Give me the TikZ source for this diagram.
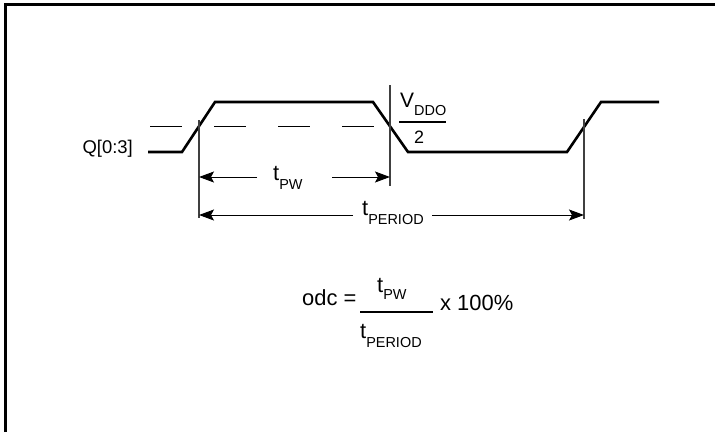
\documentclass[tikz,border=0pt]{standalone}
\usepackage{fontspec}
\setmainfont{Liberation Sans}
\usetikzlibrary{arrows.meta}
\newcommand\tsb[3][9bp]{#2\raisebox{-#1}{\fontsize{14.5}{14.5}\selectfont #3}}
\begin{document}
\begin{tikzpicture}[x=1bp,y=-1bp,
  sig/.style={line width=2.6bp, line join=miter},
  refline/.style={line width=1bp, dash pattern=on 32bp off 32bp},
  ext/.style={line width=1.2bp, draw=black!75},
  dim/.style={line width=1bp, -{Stealth[length=15bp,width=11bp,inset=3bp]}},
  lbl/.style={inner sep=0pt, font=\fontsize{22}{22}\selectfont},
  bar/.style={line width=1.2bp},
]
\useasboundingbox (0,0) rectangle (715,432);
\draw[line width=3bp] (5.5,432) -- (5.5,4.5) -- (715,4.5);

% signal
\coordinate (s0) at (148,152);
\coordinate (s1) at (182,152);
\coordinate (s2) at (215,102);
\coordinate (s3) at (373,102);
\coordinate (s4) at (408,152);
\coordinate (s5) at (567,152);
\coordinate (s6) at (601,102);
\coordinate (s7) at (659,102);
\draw[sig] (s0) -- (s1) -- (s2) -- (s3) -- (s4) -- (s5) -- (s6) -- (s7);

% threshold
\coordinate (r0) at (150,126);
\coordinate (r1) at (375,126);
\draw[refline] (r0) -- (r1);

% extension lines
\coordinate (e1t) at (199,120); \coordinate (e1b) at (199,218);
\coordinate (e2t) at (390,85);  \coordinate (e2b) at (390,186);
\coordinate (e3t) at (584,119); \coordinate (e3b) at (584,219);
\draw[ext] (e1t) -- (e1b);
\draw[ext] (e2t) -- (e2b);
\draw[ext] (e3t) -- (e3b);

% labels
\node[lbl, anchor=base east, font=\fontsize{18.5}{18.5}\selectfont] (q) at (133,153) {Q[0:3]};
\node[lbl, anchor=base west, font=\fontsize{21}{21}\selectfont] (vddo) at (400,107) {\tsb[8bp]{V}{DDO}};
\coordinate (vb0) at (399,122); \coordinate (vb1) at (446,122);
\draw[bar] (vb0) -- (vb1);
\node[lbl, anchor=base west, font=\fontsize{18}{18}\selectfont] (two) at (414,143) {2};

% tPW
\node[lbl, anchor=base west] (tpw) at (273,180) {\tsb{t}{PW}};
\coordinate (pwl) at (257,177); \coordinate (pwr) at (332,177);
\coordinate (pwle) at (199,177); \coordinate (pwre) at (390,177);
\draw[dim] (pwl) -- (pwle);
\draw[dim] (pwr) -- (pwre);

% tPERIOD
\node[lbl, anchor=base west] (tper) at (362,215) {\tsb{t}{PERIOD}};
\coordinate (pel) at (353,215); \coordinate (per) at (432,215);
\coordinate (pele) at (199,215); \coordinate (pere) at (584,215);
\draw[dim] (pel) -- (pele);
\draw[dim] (per) -- (pere);

% formula
\node[lbl, anchor=base west] (odc) at (302,305) {odc =};
\node[lbl, anchor=base west] (num) at (377,292) {\tsb[7.5bp]{t}{PW}};
\node[lbl, anchor=base west] (den) at (360,338) {\tsb{t}{PERIOD}};
\coordinate (fb0) at (360,312); \coordinate (fb1) at (433,312);
\draw[bar] (fb0) -- (fb1);
\node[lbl, anchor=base west] (pct) at (440,310) {x 100\%};
\end{tikzpicture}
\end{document}
